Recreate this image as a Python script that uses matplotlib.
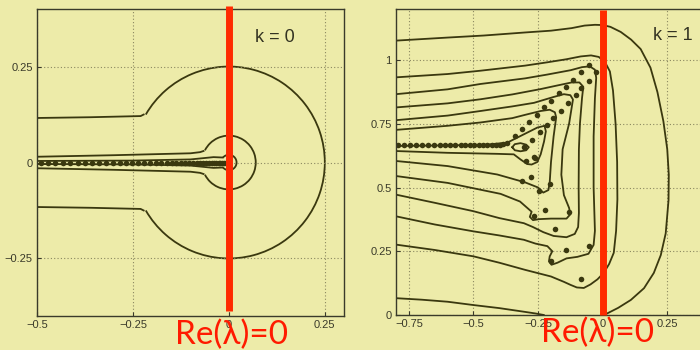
import matplotlib
matplotlib.use("Agg")
import matplotlib.pyplot as plt
from matplotlib.patches import Arc

BG = "#EDEBA9"
INK = "#3A380F"
RED = "#FF2A00"

# ---- k = 0 panel -------------------------------------------------------
# straight "arms" of each level curve (upper half, lower half)
k0_arm_up_x = [[-0.5, -0.36, -0.23, -0.222],
               [-0.5, -0.3, -0.1, -0.075, -0.066],
               [-0.5, -0.25, -0.1, -0.04, -0.016]]
k0_arm_up_y = [[0.116, 0.118, 0.121, 0.125],
               [0.015, 0.019, 0.024, 0.027, 0.03],
               [0.004, 0.005, 0.008, 0.014, 0.013]]
k0_arm_lo_y = [[-0.116, -0.118, -0.121, -0.125],
               [-0.015, -0.019, -0.024, -0.027, -0.03],
               [-0.004, -0.005, -0.008, -0.014, -0.013]]
ring_radius = [0.25, 0.07, 0.02]
ring_angle = [150.0, 153.0, 140.0]

k0_eig_x = [-0.49, -0.472, -0.452, -0.432, -0.413, -0.394, -0.375, -0.356,
            -0.338, -0.32, -0.302, -0.285, -0.268, -0.252, -0.236, -0.22,
            -0.205, -0.19, -0.176, -0.162, -0.149, -0.137, -0.125, -0.114,
            -0.103, -0.093, -0.084, -0.075, -0.067, -0.059, -0.052, -0.045,
            -0.039, -0.033, -0.027, -0.022, -0.017, -0.012, -0.008, -0.004]

# ---- k = 1 panel -------------------------------------------------------
k1_curves_x = [
    [-0.8, -0.6, -0.46, -0.3, -0.2, -0.12, -0.07, -0.03, 0.0, 0.03, 0.07, 0.11,
     0.147, 0.185, 0.212, 0.235, 0.25, 0.256, 0.255, 0.244, 0.225, 0.198, 0.16,
     0.109, 0.06, 0.025, 0.005],
    [-0.8, -0.7, -0.6, -0.5, -0.4, -0.306, -0.26, -0.228],
    [-0.8, -0.6, -0.473, -0.3, -0.214, -0.14, -0.085, -0.045, -0.015, 0.01, 0.028,
     0.04, 0.05, 0.056, 0.057, 0.052, 0.043, 0.025, 0.004, -0.02, -0.047, -0.073,
     -0.1, -0.124, -0.15, -0.2, -0.3, -0.4, -0.5, -0.65, -0.8],
    [-0.8, -0.6, -0.473, -0.3, -0.214, -0.124, -0.08, -0.05, -0.03, -0.025, -0.03,
     -0.035, -0.035, -0.03, -0.035, -0.055, -0.098, -0.14, -0.175, -0.198, -0.208,
     -0.205, -0.195, -0.214, -0.26, -0.305, -0.4, -0.5, -0.65, -0.8],
    [-0.8, -0.6, -0.473, -0.35, -0.24, -0.176, -0.12, -0.09, -0.075, -0.08, -0.088,
     -0.092, -0.093, -0.092, -0.095, -0.108, -0.14, -0.19, -0.23, -0.27, -0.305,
     -0.4, -0.5, -0.65, -0.8],
    [-0.8, -0.6, -0.473, -0.35, -0.266, -0.19, -0.15, -0.125, -0.115, -0.13, -0.155,
     -0.16, -0.15, -0.13, -0.125, -0.14, -0.2, -0.245, -0.27, -0.282, -0.275, -0.32,
     -0.395, -0.5, -0.6, -0.8],
    [-0.8, -0.6, -0.473, -0.35, -0.3, -0.24, -0.205, -0.185, -0.18, -0.19, -0.2,
     -0.205, -0.21, -0.23, -0.25, -0.3, -0.408, -0.6, -0.8],
    [-0.8, -0.6, -0.45, -0.369, -0.318, -0.253, -0.225, -0.22, -0.227, -0.24,
     -0.253, -0.275, -0.292, -0.318, -0.344, -0.408, -0.6, -0.8],
    [-0.35, -0.34, -0.318, -0.296, -0.286, -0.296, -0.318, -0.34, -0.35],
]
k1_curves_y = [
    [1.076, 1.088, 1.096, 1.108, 1.115, 1.125, 1.135, 1.138, 1.137, 1.13, 1.11,
     1.08, 1.043, 0.97, 0.874, 0.76, 0.65, 0.55, 0.45, 0.32, 0.235, 0.165, 0.105,
     0.059, 0.028, 0.01, 0.0],
    [0.066, 0.06, 0.052, 0.039, 0.027, 0.013, 0.006, 0.0],
    [0.932, 0.945, 0.958, 0.978, 0.991, 1.003, 1.014, 1.018, 1.012, 0.99, 0.955,
     0.88, 0.75, 0.6, 0.453, 0.33, 0.244, 0.2, 0.165, 0.14, 0.12, 0.106, 0.108,
     0.118, 0.13, 0.151, 0.177, 0.205, 0.23, 0.255, 0.276],
    [0.866, 0.885, 0.906, 0.928, 0.943, 0.96, 0.972, 0.975, 0.962, 0.93, 0.85,
     0.7, 0.5, 0.33, 0.275, 0.24, 0.228, 0.222, 0.205, 0.197, 0.21, 0.23, 0.25,
     0.27, 0.28, 0.295, 0.312, 0.328, 0.355, 0.387],
    [0.814, 0.83, 0.846, 0.865, 0.886, 0.9, 0.912, 0.912, 0.895, 0.85, 0.75, 0.65,
     0.5, 0.4, 0.345, 0.318, 0.305, 0.31, 0.325, 0.345, 0.36, 0.38, 0.407, 0.44,
     0.472],
    [0.764, 0.782, 0.8, 0.818, 0.832, 0.855, 0.866, 0.862, 0.845, 0.75, 0.65, 0.55,
     0.47, 0.42, 0.395, 0.378, 0.378, 0.376, 0.372, 0.385, 0.405, 0.445, 0.475,
     0.497, 0.518, 0.545],
    [0.726, 0.742, 0.755, 0.772, 0.785, 0.8, 0.805, 0.795, 0.775, 0.7, 0.6, 0.52,
     0.49, 0.48, 0.5, 0.52, 0.551, 0.584, 0.604],
    [0.663, 0.665, 0.668, 0.676, 0.702, 0.735, 0.742, 0.72, 0.68, 0.63, 0.6, 0.59,
     0.592, 0.61, 0.63, 0.632, 0.636, 0.643],
    [0.658, 0.67, 0.674, 0.668, 0.658, 0.646, 0.642, 0.646, 0.658],
]

k1_eig_x = [-0.792, -0.769, -0.746, -0.722, -0.699, -0.676, -0.653, -0.631,
            -0.61, -0.59, -0.57, -0.55, -0.532, -0.514, -0.497, -0.48, -0.463,
            -0.446, -0.43, -0.414, -0.399, -0.385,
            -0.372, -0.341, -0.314, -0.286, -0.256, -0.227, -0.199, -0.169,
            -0.143, -0.114, -0.085, -0.053,
            -0.272, -0.243, -0.214, -0.191, -0.163, -0.134, -0.105, -0.083,
            -0.053, -0.027,
            -0.305, -0.266, -0.298, -0.262, -0.279, -0.311, -0.204, -0.247,
            -0.224, -0.131, -0.266, -0.185, -0.143, -0.052, -0.199, -0.085]
k1_eig_y = [0.667, 0.667, 0.667, 0.667, 0.667, 0.667, 0.667, 0.667,
            0.667, 0.667, 0.667, 0.667, 0.667, 0.667, 0.667, 0.667, 0.667,
            0.667, 0.667, 0.667, 0.668, 0.67,
            0.676, 0.702, 0.728, 0.757, 0.786, 0.814, 0.84, 0.869,
            0.896, 0.922, 0.951, 0.98,
            0.686, 0.718, 0.745, 0.772, 0.8, 0.833, 0.862, 0.89,
            0.919, 0.954,
            0.659, 0.62, 0.604, 0.617, 0.542, 0.525, 0.514, 0.486,
            0.413, 0.403, 0.387, 0.339, 0.253, 0.269, 0.21, 0.142]


def style_axes(ax, xticks, xlabels, yticks, ylabels):
    ax.set_facecolor(BG)
    ax.set_xticks(xticks)
    ax.set_xticklabels(xlabels)
    ax.set_yticks(yticks)
    ax.set_yticklabels(ylabels)
    ax.tick_params(direction="in", length=3, width=0.8, labelsize=8,
                   colors="#3a3a2a", pad=3)
    ax.grid(True, linestyle=(0, (1, 2)), color="#8a8760", linewidth=0.8)
    for spine in ax.spines.values():
        spine.set_color("#3a3a2a")
        spine.set_linewidth(1.0)


plt.rcParams["font.family"] = ["Liberation Sans", "DejaVu Sans"]
fig = plt.figure(figsize=(7, 3.5), dpi=100, facecolor=BG)

# left panel
ax1 = fig.add_axes([37 / 700, 34 / 350, 307 / 700, 307 / 350])
ax1.set_xlim(-0.5, 0.3)
ax1.set_ylim(-0.4, 0.4)
style_axes(ax1, [-0.5, -0.25, 0, 0.25], ["\u22120.5", "\u22120.25", "0", "0.25"],
           [-0.25, 0, 0.25], ["\u22120.25", "0", "0.25"])
for xs, ys_up, ys_lo, r, ang in zip(k0_arm_up_x, k0_arm_up_y, k0_arm_lo_y,
                                    ring_radius, ring_angle):
    ax1.plot(xs, ys_up, color=INK, lw=1.3, solid_joinstyle="round")
    ax1.plot(xs, ys_lo, color=INK, lw=1.3, solid_joinstyle="round")
    ax1.add_patch(Arc((0, 0), 2 * r, 2 * r, theta1=-ang, theta2=ang,
                      color=INK, lw=1.3))
ax1.plot(k0_eig_x, [0] * len(k0_eig_x), "o", color=INK, ms=4, mew=0)
ax1.plot([0, 0], [0.409, -0.388], color=RED, lw=5, clip_on=False,
         solid_capstyle="butt", zorder=6)
ax1.text(0.12, 0.325, "k = 0", fontsize=13, color="#333322",
         ha="center", va="center")
ax1.text(0.008, -0.062, "Re(\u03bb)=0", transform=ax1.get_xaxis_transform(),
         fontsize=24, color="#FF1a00", ha="center", va="center",
         family=["Lato", "DejaVu Sans"], clip_on=False, zorder=7)

# right panel
ax2 = fig.add_axes([396 / 700, 35 / 350, 310 / 700, 306 / 350])
ax2.set_xlim(-0.8, 0.4)
ax2.set_ylim(0, 1.2)
style_axes(ax2, [-0.75, -0.5, -0.25, 0, 0.25],
           ["\u22120.75", "\u22120.5", "\u22120.25", "0", "0.25"],
           [0, 0.25, 0.5, 0.75, 1], ["0", "0.25", "0.5", "0.75", "1"])
for xs, ys in zip(k1_curves_x, k1_curves_y):
    ax2.plot(xs, ys, color=INK, lw=1.3, solid_joinstyle="round")
ax2.plot(k1_eig_x, k1_eig_y, "o", color=INK, ms=4, mew=0)
ax2.plot([0, 0], [1.196, 0.0], color=RED, lw=5, clip_on=False,
         solid_capstyle="butt", zorder=6)
ax2.text(0.27, 1.098, "k = 1", fontsize=13, color="#333322",
         ha="center", va="center")
ax2.text(-0.02, -0.058, "Re(\u03bb)=0", transform=ax2.get_xaxis_transform(),
         fontsize=24, color="#FF1a00", ha="center", va="center",
         family=["Lato", "DejaVu Sans"], clip_on=False, zorder=7)

fig.savefig("out.png", dpi=100, facecolor=BG)
